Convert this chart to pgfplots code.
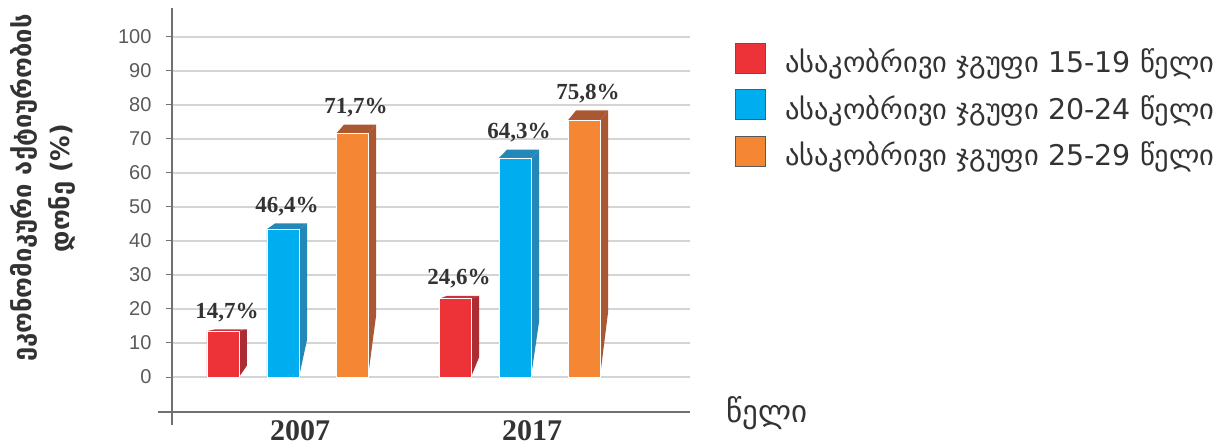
\documentclass[border=0pt]{standalone}
\usepackage{pgfplots}
\pgfplotsset{compat=1.18}
\usepackage{fontspec}
\setmainfont{Liberation Sans}
\newfontfamily\geo{DejaVu Sans}
\newfontfamily\numfont{Liberation Serif}

\definecolor{cRed}{HTML}{EE3338}
\definecolor{cRedS}{HTML}{AB2C32}
\definecolor{cRedT}{HTML}{C8343A}
\definecolor{cBlue}{HTML}{00AEEF}
\definecolor{cBlueS}{HTML}{2388B7}
\definecolor{cOr}{HTML}{F58634}
\definecolor{cOrS}{HTML}{AA5733}
\definecolor{txt}{HTML}{333333}
\definecolor{tickc}{HTML}{5A5A5A}
\definecolor{gridc}{HTML}{D4D4D4}
\definecolor{axisc}{HTML}{707070}

% side and top faces of a bar: centre x, height, side colour, top colour
\newcommand\faces[4]{%
  \pgfmathsetmacro\xl{#1-16}\pgfmathsetmacro\xr{#1+16}%
  \pgfmathsetmacro\xlb{#1-8}\pgfmathsetmacro\xrb{#1+24}%
  \pgfmathsetmacro\ty{#2*1.038}\pgfmathsetmacro\bb{#2*0.25}%
  \addplot[fill=#4, draw=none, forget plot] coordinates {(\xl,#2) (\xr,#2) (\xrb,\ty) (\xlb,\ty)};
  \addplot[fill=#3, draw=none, forget plot] coordinates {(\xr,0) (\xr,#2) (\xrb,\ty) (\xrb,\bb)};
}

\begin{document}
\begin{tikzpicture}
\useasboundingbox (-172bp,-35bp) rectangle (1056bp,412bp);
\begin{axis}[
    scale only axis,
    width=518bp, height=404bp,
    xmin=-128, xmax=390,
    ymin=-10.29, ymax=108.5,
    axis lines=left,
    axis line style={draw=none},
    clip=false,
    no markers,
    ytick={0,10,...,100},
    ytick pos=left,
    xtick={0,232},
    xticklabels={2007,2017},
    xtick style={draw=none},
    ymajorgrids,
    grid style={draw=gridc, line width=1.5bp},
    tick align=outside,
    major tick length=6bp,
    ytick style={draw=axisc, line width=1bp},
    /pgf/number format/assume math mode=true,
    yticklabel style={font=\fontsize{20bp}{20bp}\selectfont, text=tickc, xshift=-11bp},
    xticklabel style={font=\numfont\bfseries\fontsize{30bp}{30bp}\selectfont, text=txt, inner sep=0pt, yshift=-2bp},
    ylabel={ეკონომიკური აქტიურობის\\დონე (\%)},
    every axis y label/.style={at={([xshift=-129bp,yshift=224bp]rel axis cs:0,0)},
        rotate=90, anchor=center, align=center, text=txt,
        font=\geo\bfseries\fontsize{25.5bp}{38bp}\selectfont},
    xlabel={წელი},
    every axis x label/.style={at={([xshift=77bp,yshift=-1bp]rel axis cs:1,0)},
        anchor=center, text=txt, font=\geo\fontsize{31bp}{33bp}\selectfont},
    legend style={at={(rel axis cs:1.0869,0.9134)}, anchor=north west,
        draw=none, fill=none, inner sep=0pt, row sep=15bp,
        nodes={inner sep=0pt},
        font=\geo\fontsize{28.5bp}{31bp}\selectfont, text=txt},
    legend cell align=left,
    legend image code/.code={%
        \draw[#1, draw=black!65, line width=1bp] (0bp,-12bp) rectangle (30bp,18bp);
        \path (49bp,0bp);},
    nodes near coords style={font=\numfont\bfseries\fontsize{23bp}{23bp}\selectfont,
        text=txt, anchor=south, inner sep=0pt, xshift=4bp, yshift={7+0.13*\rawy}},
]

\faces{-77}{13.5}{cRedS}{cRedT}
\faces{155}{23}{cRedS}{cRedT}
\faces{-17}{43.5}{cBlueS}{cBlueS}
\faces{215}{64.4}{cBlueS}{cBlueS}
\faces{52}{71.5}{cOrS}{cOrS}
\faces{284}{75.5}{cOrS}{cOrS}

\addplot[ybar, bar width=32, bar shift=0pt, fill=cRed, draw=white, line width=0.8bp,
    point meta=explicit symbolic, nodes near coords,
    visualization depends on={rawy \as \rawy}]
    coordinates {(-77,13.5) [14,7\%] (155,23) [24,6\%]};
\addlegendentry{ასაკობრივი ჯგუფი 15-19 წელი}

\addplot[ybar, bar width=32, bar shift=0pt, fill=cBlue, draw=white, line width=0.8bp,
    point meta=explicit symbolic, nodes near coords,
    visualization depends on={rawy \as \rawy}]
    coordinates {(-17,43.5) [46,4\%] (215,64.4) [64,3\%]};
\addlegendentry{ასაკობრივი ჯგუფი 20-24 წელი}

\addplot[ybar, bar width=32, bar shift=0pt, fill=cOr, draw=white, line width=0.8bp,
    point meta=explicit symbolic, nodes near coords,
    visualization depends on={rawy \as \rawy}]
    coordinates {(52,71.5) [71,7\%] (284,75.5) [75,8\%]};
\addlegendentry{ასაკობრივი ჯგუფი 25-29 წელი}

\draw[axisc, line width=1.4bp] ([xshift=-14bp]rel axis cs:0,0) -- (rel axis cs:1,0);
\draw[axisc, line width=1.4bp] (rel axis cs:0,1) -- ([yshift=-13bp]rel axis cs:0,0);
\end{axis}
\end{tikzpicture}
\end{document}
